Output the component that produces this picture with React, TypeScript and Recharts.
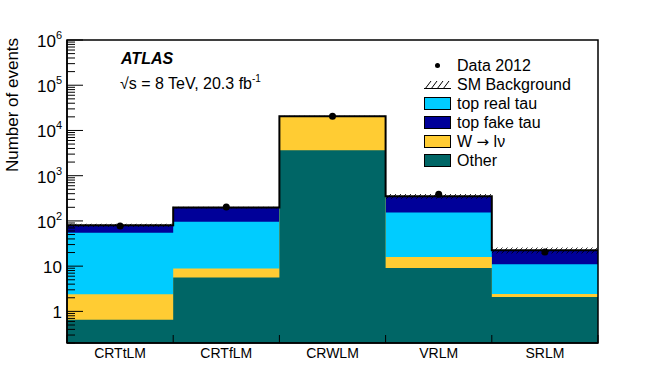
import { ComposedChart, Area, Line, Scatter, XAxis, YAxis, ReferenceArea } from "recharts"

// yields per region (log scale)
const regions = ["CRTtLM", "CRTfLM", "CRWLM", "VRLM", "SRLM"]
const other = [0.65, 5.6, 3650, 9.1, 2.07]
const wToLnu = [1.75, 3.3, 16900, 6.8, 0.34]
const topRealTau = [52.6, 87, 30, 137, 8.6]
const topFakeTau = [25, 101, 20, 197, 11.4]
const data2012 = [77, 204, 20600, 387, 20.5]
const bkgRelUnc = [0.08, 0.05, 0.03, 0.12, 0.15]

const yMajorTicks = [1, 10, 100, 1e3, 1e4, 1e5, 1e6]
const yMin = 0.2

const C_REAL = "#00ccff"
const C_FAKE = "#000099"
const C_W = "#ffcc33"
const C_OTHER = "#006666"

// step rows: one per bin edge, last edge repeats the last bin
const rows = [...regions.map((_, i) => i), regions.length].map((i) => {
  const j = Math.min(i, regions.length - 1)
  const o = other[j]
  const w = o + wToLnu[j]
  const real = w + topRealTau[j]
  const total = real + topFakeTau[j]
  const u = bkgRelUnc[j]
  return { x: i, other: o, w, real, total, band: [total * (1 - u), total * (1 + u)] }
})

const points = regions.map((_, i) => ({ x: i + 0.5, y: data2012[i] }))

const yTicks: number[] = []
;[0.1, ...yMajorTicks.slice(0, -1)].forEach((d) => {
  for (let k = 1; k < 10; k++) {
    const v = d * k
    if (v >= yMin - 1e-9) yTicks.push(v)
  }
})
yTicks.push(1e6)

const xTicks: number[] = []
for (let i = 0; i <= regions.length * 2; i++) xTicks.push(i / 2)

const font = "'Liberation Sans', Arial, Helvetica, sans-serif"
const W = 664
const H = 382
const margin = { top: 40, right: 66, bottom: 9, left: 7 }

function YTick({ x, y, payload }: any) {
  const v = payload.value
  const lg = Math.log10(v)
  const exp = Math.round(lg)
  const major = Math.abs(lg - exp) < 1e-6
  return (
    <g>
      <line x1={x} x2={x + (major ? 16 : 8)} y1={y} y2={y} stroke="#000" strokeWidth={1} />
      {major && (
        <text x={x - 5} y={y + 7} textAnchor="end" fontSize={17} fontFamily={font} fill="#000">
          {exp === 0 ? "1" : "10"}
          {exp > 1 && (
            <tspan dy={-8} fontSize={11}>
              {exp}
            </tspan>
          )}
        </text>
      )}
    </g>
  )
}

function XTick({ x, y, payload }: any) {
  const v = payload.value
  if (Number.isInteger(v)) {
    return <line x1={x} x2={x} y1={y} y2={y - 8} stroke="#000" strokeWidth={1} />
  }
  return (
    <text x={x} y={y + 15} textAnchor="middle" fontSize={14} fontFamily={font} fill="#000">
      {regions[Math.floor(v)]}
    </text>
  )
}

function Axes({ show }: { show: boolean }) {
  return (
    <>
      <XAxis
        dataKey="x"
        type="number"
        domain={[0, regions.length]}
        ticks={xTicks}
        interval={0}
        tick={show ? <XTick /> : false}
        tickLine={false}
        tickSize={0}
        tickMargin={0}
        height={30}
        axisLine={show ? { stroke: "#000", strokeWidth: 1.5 } : false}
        allowDataOverflow
      />
      <YAxis
        scale="log"
        type="number"
        domain={[yMin, 1e6]}
        ticks={yTicks}
        interval={0}
        tick={show ? <YTick /> : false}
        tickLine={false}
        tickSize={0}
        tickMargin={0}
        width={60}
        axisLine={show ? { stroke: "#000", strokeWidth: 1.5 } : false}
        allowDataOverflow
      />
    </>
  )
}

function LegendBox({ color }: { color: string }) {
  return <div style={{ width: 25, height: 11, background: color, border: "1px solid #000" }} />
}

const legendItems = [
  { label: <span>top real tau</span>, color: C_REAL },
  { label: <span>top fake tau</span>, color: C_FAKE },
  {
    label: (
      <span>
        W <span style={{ fontFamily: "'DejaVu Sans', sans-serif", fontSize: 15 }}>{"\u2192"}</span> l{"\u03bd"}
      </span>
    ),
    color: C_W,
  },
  { label: <span>Other</span>, color: C_OTHER },
]

export default function App() {
  return (
    <div
      style={{
        position: "absolute",
        left: 0,
        top: 0,
        width: W,
        height: H,
        background: "#fff",
        fontFamily: font,
      }}
    >
      <ComposedChart width={W} height={H} data={rows} margin={margin}>
        <defs>
          <pattern id="hatch" width="5" height="5" patternUnits="userSpaceOnUse">
            <path d="M0,5 L5,0 M-1,1 L1,-1 M4,6 L6,4" stroke="#000" strokeWidth={0.8} />
          </pattern>
        </defs>
        {Axes({ show: false })}
        <Area dataKey="total" type="stepAfter" fill={C_FAKE} fillOpacity={1} stroke="none" dot={false} activeDot={false} isAnimationActive={false} />
        <Area dataKey="real" type="stepAfter" fill={C_REAL} fillOpacity={1} stroke="none" dot={false} activeDot={false} isAnimationActive={false} />
        <Area dataKey="w" type="stepAfter" fill={C_W} fillOpacity={1} stroke="none" dot={false} activeDot={false} isAnimationActive={false} />
        <Area dataKey="other" type="stepAfter" fill={C_OTHER} fillOpacity={1} stroke="none" dot={false} activeDot={false} isAnimationActive={false} />
        <Area dataKey="band" type="stepAfter" fill="url(#hatch)" fillOpacity={1} stroke="none" dot={false} activeDot={false} isAnimationActive={false} />
        <Line dataKey="total" type="stepAfter" stroke="#000" strokeWidth={2} dot={false} activeDot={false} isAnimationActive={false} />
        <Scatter
          data={points}
          dataKey="y"
          isAnimationActive={false}
          shape={(p: any) => <circle cx={p.cx} cy={p.cy} r={3.5} fill="#000" />}
        />
      </ComposedChart>

      {/* axes and frame drawn on top, as ROOT does */}
      <div style={{ position: "absolute", left: 0, top: 0 }}>
        <ComposedChart width={W} height={H} data={rows} margin={margin}>
          {Axes({ show: true })}
          <ReferenceArea x1={0} x2={regions.length} y1={yMin} y2={1e6} fill="none" fillOpacity={0} stroke="#000" strokeWidth={1.5} />
        </ComposedChart>
      </div>

      <div
        style={{
          position: "absolute",
          left: 13,
          top: 105,
          transform: "translate(-50%, -50%) rotate(-90deg)",
          fontSize: 17,
          whiteSpace: "nowrap",
        }}
      >
        Number of events
      </div>

      <div style={{ position: "absolute", left: 121, top: 50, fontSize: 16, fontWeight: "bold", fontStyle: "italic" }}>
        ATLAS
      </div>
      <div style={{ position: "absolute", left: 120, top: 73, fontSize: 16, whiteSpace: "nowrap" }}>
        {"\u221as = 8 TeV, 20.3 fb"}
        <span style={{ fontSize: 10, verticalAlign: 7 }}>-1</span>
      </div>

      <div style={{ position: "absolute", left: 424, top: 56, fontSize: 16, lineHeight: "19px" }}>
        <div style={{ display: "flex", alignItems: "center", gap: 6, height: 19 }}>
          <div style={{ width: 27, display: "flex", justifyContent: "center" }}>
            <div style={{ width: 5, height: 5, borderRadius: 3, background: "#000" }} />
          </div>
          <span>Data 2012</span>
        </div>
        <div style={{ display: "flex", alignItems: "center", gap: 6, height: 19 }}>
          <svg width={27} height={8}>
            <path d="M1,8 L7,0 M7,8 L13,0 M13,8 L19,0 M19,8 L25,0 M0,7.5 L27,7.5" stroke="#000" strokeWidth={1} fill="none" />
          </svg>
          <span>SM Background</span>
        </div>
        {legendItems.map((it, i) => (
          <div key={i} style={{ display: "flex", alignItems: "center", gap: 6, height: 19 }}>
            <LegendBox color={it.color} />
            {it.label}
          </div>
        ))}
      </div>
    </div>
  )
}
